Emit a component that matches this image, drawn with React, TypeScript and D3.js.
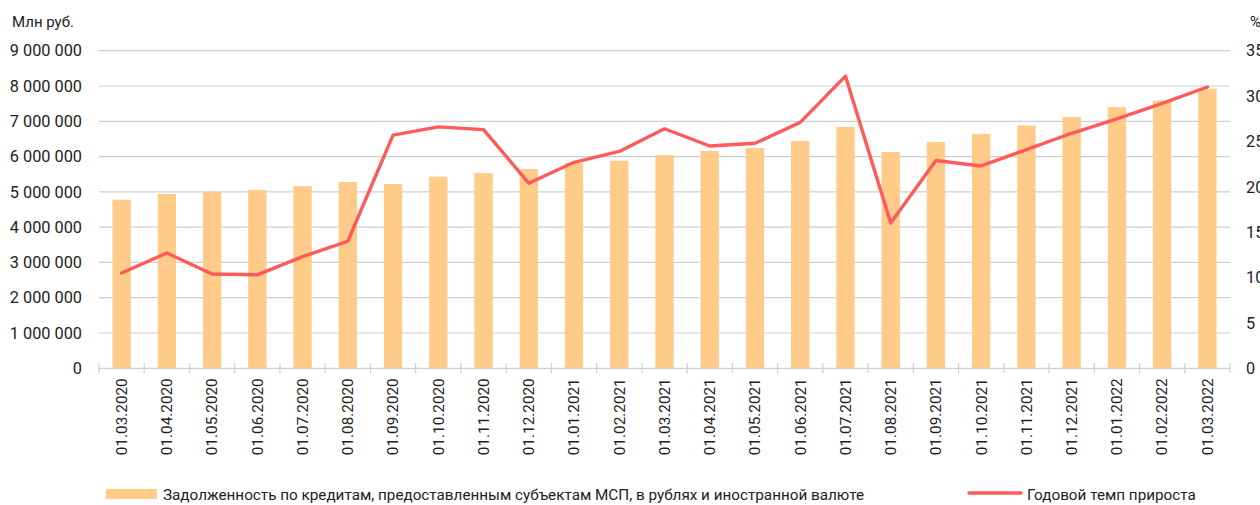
import React from "react";
import * as d3 from "d3";

const categories = [
  "01.03.2020", "01.04.2020", "01.05.2020", "01.06.2020", "01.07.2020", "01.08.2020",
  "01.09.2020", "01.10.2020", "01.11.2020", "01.12.2020", "01.01.2021", "01.02.2021",
  "01.03.2021", "01.04.2021", "01.05.2021", "01.06.2021", "01.07.2021", "01.08.2021",
  "01.09.2021", "01.10.2021", "01.11.2021", "01.12.2021", "01.01.2022", "01.02.2022",
  "01.03.2022",
];

const debt = [
  4780000, 4940000, 5000000, 5050000, 5160000, 5280000, 5220000, 5430000, 5530000,
  5650000, 5820000, 5880000, 6040000, 6160000, 6240000, 6440000, 6840000, 6130000,
  6410000, 6640000, 6880000, 7120000, 7400000, 7590000, 7920000,
];

const growth = [
  10.5, 12.7, 10.4, 10.3, 12.3, 14.0, 25.7, 26.6, 26.3, 20.4, 22.7, 23.9, 26.4, 24.5,
  24.8, 27.1, 32.2, 16.0, 22.9, 22.3, 24.1, 25.9, 27.5, 29.2, 31.0,
];

const leftTicks = [0, 1000000, 2000000, 3000000, 4000000, 5000000, 6000000, 7000000, 8000000, 9000000];
const rightTicks = [0, 5, 10, 15, 20, 25, 30, 35];

const leftUnit = "Млн руб.";
const rightUnit = "%";
const barLegend = "Задолженность по кредитам, предоставленным субъектам МСП, в рублях и иностранной валюте";
const lineLegend = "Годовой темп прироста";

const W = 1260;
const H = 505;
const plot = { left: 99, right: 1230, top: 50.7, bottom: 368.3 };
const BAR = "#FECB88";
const LINE = "#FF5A5A";
const GRID = "#cfcfcf";
const FONT = "Roboto, 'Noto Sans', sans-serif";
const TXT = "#222";

const fmt = (v: number) => d3.format(",")(v).replace(/,/g, " ");

export default function App() {
  const x = d3.scaleBand<string>().domain(categories).range([plot.left, plot.right]).paddingInner(0).paddingOuter(0);
  const yL = d3.scaleLinear().domain([0, 9000000]).range([plot.bottom, plot.top]);
  const yR = d3.scaleLinear().domain([0, 35]).range([plot.bottom, plot.top]);
  const bw = x.bandwidth() * 0.405;
  const cx = (c: string) => (x(c) as number) + x.bandwidth() / 2;

  const line = d3
    .line<number>()
    .x((_, i) => cx(categories[i]))
    .y((d) => yR(d));

  const boundaries = d3.range(categories.length + 1).map((i) => plot.left + i * x.bandwidth());

  return (
    <div style={{ position: "fixed", left: 0, top: 0 }}>
      <svg width={W} height={H} style={{ display: "block", background: "#fff" }} fontFamily={FONT}>
        {leftTicks.slice(1).map((t) => (
          <line key={"g" + t} x1={plot.left} x2={plot.right} y1={yL(t)} y2={yL(t)} stroke={GRID} strokeWidth={1.2} />
        ))}
        {debt.map((v, i) => (
          <rect key={"b" + i} x={cx(categories[i]) - bw / 2} y={yL(v)} width={bw} height={yL(0) - yL(v)} fill={BAR} />
        ))}
        <line x1={plot.left} x2={plot.right} y1={plot.bottom} y2={plot.bottom} stroke={GRID} strokeWidth={1.2} />
        {boundaries.map((bx, i) => (
          <line key={"t" + i} x1={bx} x2={bx} y1={plot.bottom - 5} y2={plot.bottom + 5} stroke={GRID} strokeWidth={1.2} />
        ))}
        <path d={line(growth) || ""} fill="none" stroke={LINE} strokeWidth={3.4} strokeLinejoin="round" strokeLinecap="round" />
        {leftTicks.map((t) => (
          <text key={"l" + t} x={82} y={yL(t)} dy="0.35em" textAnchor="end" fontSize={16.3} fill={TXT}>
            {fmt(t)}
          </text>
        ))}
        {rightTicks.map((t) => (
          <text key={"r" + t} x={1246} y={yR(t)} dy="0.35em" textAnchor="start" fontSize={16.3} fill={TXT}>
            {t}
          </text>
        ))}
        <text x={12} y={27} fontSize={15} fill={TXT}>{leftUnit}</text>
        <text x={1250} y={27} fontSize={15} fill={TXT}>{rightUnit}</text>
        {categories.map((c) => (
          <text
            key={"x" + c}
            transform={`translate(${cx(c)},${plot.bottom + 10}) rotate(-90)`}
            dy="0.35em"
            textAnchor="end"
            fontSize={15.3}
            fill={TXT}
          >
            {c}
          </text>
        ))}
        <rect x={106} y={489} width={51} height={10} fill={BAR} />
        <text x={163} y={500} fontSize={15.25} fill={TXT}>{barLegend}</text>
        <line x1={969} x2={1021} y1={493} y2={493} stroke={LINE} strokeWidth={3.4} strokeLinecap="round" />
        <text x={1027} y={500} fontSize={15.25} fill={TXT}>{lineLegend}</text>
      </svg>
    </div>
  );
}
